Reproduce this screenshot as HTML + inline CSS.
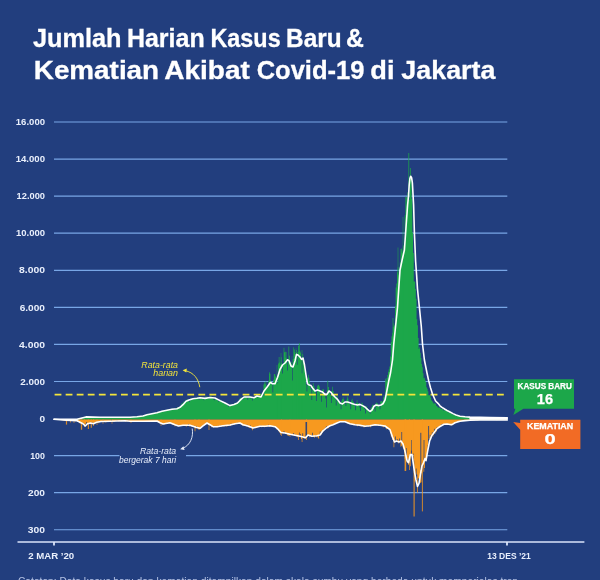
<!DOCTYPE html>
<html lang="id">
<head>
<meta charset="utf-8">
<title>Jumlah Harian Kasus Baru &amp; Kematian Akibat Covid-19 di Jakarta</title>
<style>
html,body{margin:0;padding:0;background:#223e7e;}
body{width:600px;height:580px;overflow:hidden;position:relative;font-family:"Liberation Sans",sans-serif;}
svg{position:absolute;left:0;top:0;display:block;}
text{font-family:"Liberation Sans",sans-serif;}
.t{font-weight:700;fill:#fff;stroke:#fff;stroke-width:0.3px;}
.yl{font-weight:700;fill:#e9effc;font-size:9.8px;}
.xl{font-weight:700;fill:#e9effc;font-size:9.8px;}
.an{font-style:italic;font-size:8.2px;}
.bx{font-weight:700;fill:#fff;stroke:#fff;stroke-width:0.25px;}
</style>
</head>
<body>
<svg width="600" height="580" viewBox="0 0 600 580">
<rect width="600" height="580" fill="#223e7e"/>
<text class="t" y="47.2" font-size="25.7"><tspan x="32.98" textLength="88.62" lengthAdjust="spacingAndGlyphs">Jumlah</tspan> <tspan x="126.92" textLength="77.73" lengthAdjust="spacingAndGlyphs">Harian</tspan> <tspan x="210.47" textLength="70.18" lengthAdjust="spacingAndGlyphs">Kasus</tspan> <tspan x="286.11" textLength="55.49" lengthAdjust="spacingAndGlyphs">Baru</tspan> <tspan x="345.90" textLength="17.88" lengthAdjust="spacingAndGlyphs">&amp;</tspan></text>
<text class="t" y="79.1" font-size="25.4"><tspan x="33.78" textLength="125.36" lengthAdjust="spacingAndGlyphs">Kematian</tspan> <tspan x="164.18" textLength="85.66" lengthAdjust="spacingAndGlyphs">Akibat</tspan> <tspan x="256.65" textLength="107.83" lengthAdjust="spacingAndGlyphs">Covid-19</tspan> <tspan x="370.37" textLength="24.19" lengthAdjust="spacingAndGlyphs">di</tspan> <tspan x="401.36" textLength="94.09" lengthAdjust="spacingAndGlyphs">Jakarta</tspan></text>
<g stroke="#78a6e6" stroke-width="1.2" fill="none">
<line x1="54" y1="122.00" x2="507.3" y2="122.00"/>
<line x1="54" y1="159.07" x2="507.3" y2="159.07"/>
<line x1="54" y1="196.14" x2="507.3" y2="196.14"/>
<line x1="54" y1="233.21" x2="507.3" y2="233.21"/>
<line x1="54" y1="270.28" x2="507.3" y2="270.28"/>
<line x1="54" y1="307.35" x2="507.3" y2="307.35"/>
<line x1="54" y1="344.42" x2="507.3" y2="344.42"/>
<line x1="54" y1="381.49" x2="507.3" y2="381.49"/>
<line x1="54" y1="455.63" x2="507.3" y2="455.63"/>
<line x1="54" y1="492.70" x2="507.3" y2="492.70"/>
<line x1="54" y1="529.77" x2="507.3" y2="529.77"/>
</g>
<text class="yl" x="15.80" y="125.20" textLength="29.20" lengthAdjust="spacingAndGlyphs">16.000</text>
<text class="yl" x="15.70" y="162.27" textLength="29.30" lengthAdjust="spacingAndGlyphs">14.000</text>
<text class="yl" x="16.60" y="199.34" textLength="28.40" lengthAdjust="spacingAndGlyphs">12.000</text>
<text class="yl" x="16.00" y="236.41" textLength="29.00" lengthAdjust="spacingAndGlyphs">10.000</text>
<text class="yl" x="19.00" y="273.48" textLength="26.00" lengthAdjust="spacingAndGlyphs">8.000</text>
<text class="yl" x="19.70" y="310.55" textLength="25.30" lengthAdjust="spacingAndGlyphs">6.000</text>
<text class="yl" x="19.00" y="347.62" textLength="26.00" lengthAdjust="spacingAndGlyphs">4.000</text>
<text class="yl" x="20.20" y="384.69" textLength="24.80" lengthAdjust="spacingAndGlyphs">2.000</text>
<text class="yl" x="39.40" y="421.76" textLength="5.60" lengthAdjust="spacingAndGlyphs">0</text>
<text class="yl" x="30.20" y="458.83" textLength="14.80" lengthAdjust="spacingAndGlyphs">100</text>
<text class="yl" x="28.00" y="495.90" textLength="17.00" lengthAdjust="spacingAndGlyphs">200</text>
<text class="yl" x="27.80" y="532.97" textLength="17.20" lengthAdjust="spacingAndGlyphs">300</text>
<path d="M54.00,419.4 L54.00,419.30 L54.70,419.30 L54.70,419.29 L55.39,419.29 L55.39,419.30 L56.09,419.30 L56.09,419.30 L56.78,419.30 L56.78,419.31 L57.48,419.31 L57.48,419.31 L58.18,419.31 L58.18,419.30 L58.87,419.30 L58.87,419.30 L59.57,419.30 L59.57,419.29 L60.26,419.29 L60.26,419.30 L60.96,419.30 L60.96,419.30 L61.65,419.30 L61.65,419.30 L62.35,419.30 L62.35,419.31 L63.05,419.31 L63.05,419.30 L63.74,419.30 L63.74,419.29 L64.44,419.29 L64.44,419.29 L65.13,419.29 L65.13,419.31 L65.83,419.31 L65.83,419.31 L66.53,419.31 L66.53,419.31 L67.22,419.31 L67.22,419.31 L67.92,419.31 L67.92,419.30 L68.61,419.30 L68.61,419.30 L69.31,419.30 L69.31,419.29 L70.00,419.29 L70.00,419.30 L70.70,419.30 L70.70,419.30 L71.40,419.30 L71.40,419.30 L72.09,419.30 L72.09,419.31 L72.79,419.31 L72.79,419.29 L73.48,419.29 L73.48,419.29 L74.18,419.29 L74.18,419.29 L74.88,419.29 L74.88,419.30 L75.57,419.30 L75.57,419.30 L76.27,419.30 L76.27,419.15 L76.96,419.15 L76.96,418.98 L77.66,418.98 L77.66,418.76 L78.35,418.76 L78.35,418.55 L79.05,418.55 L79.05,418.37 L79.75,418.37 L79.75,418.24 L80.44,418.24 L80.44,418.06 L81.14,418.06 L81.14,417.78 L81.83,417.78 L81.83,417.81 L82.53,417.81 L82.53,417.49 L83.23,417.49 L83.23,417.18 L83.92,417.18 L83.92,417.15 L84.62,417.15 L84.62,416.84 L85.31,416.84 L85.31,416.76 L86.01,416.76 L86.01,417.25 L86.71,417.25 L86.71,417.12 L87.40,417.12 L87.40,417.05 L88.10,417.05 L88.10,417.04 L88.79,417.04 L88.79,416.84 L89.49,416.84 L89.49,416.99 L90.18,416.99 L90.18,417.23 L90.88,417.23 L90.88,417.04 L91.58,417.04 L91.58,417.14 L92.27,417.14 L92.27,417.07 L92.97,417.07 L92.97,416.92 L93.66,416.92 L93.66,417.00 L94.36,417.00 L94.36,417.11 L95.06,417.11 L95.06,417.34 L95.75,417.34 L95.75,417.20 L96.45,417.20 L96.45,417.41 L97.14,417.41 L97.14,417.36 L97.84,417.36 L97.84,417.36 L98.53,417.36 L98.53,417.29 L99.23,417.29 L99.23,417.30 L99.93,417.30 L99.93,417.16 L100.62,417.16 L100.62,417.56 L101.32,417.56 L101.32,417.55 L102.01,417.55 L102.01,417.31 L102.71,417.31 L102.71,417.07 L103.41,417.07 L103.41,417.11 L104.10,417.11 L104.10,417.42 L104.80,417.42 L104.80,417.54 L105.49,417.54 L105.49,417.28 L106.19,417.28 L106.19,417.45 L106.88,417.45 L106.88,417.43 L107.58,417.43 L107.58,417.10 L108.28,417.10 L108.28,417.03 L108.97,417.03 L108.97,417.18 L109.67,417.18 L109.67,417.22 L110.36,417.22 L110.36,417.25 L111.06,417.25 L111.06,417.17 L111.76,417.17 L111.76,417.22 L112.45,417.22 L112.45,417.12 L113.15,417.12 L113.15,417.06 L113.84,417.06 L113.84,417.34 L114.54,417.34 L114.54,417.08 L115.24,417.08 L115.24,417.17 L115.93,417.17 L115.93,417.27 L116.63,417.27 L116.63,417.48 L117.32,417.48 L117.32,417.22 L118.02,417.22 L118.02,417.00 L118.71,417.00 L118.71,417.34 L119.41,417.34 L119.41,417.23 L120.11,417.23 L120.11,417.16 L120.80,417.16 L120.80,417.47 L121.50,417.47 L121.50,417.11 L122.19,417.11 L122.19,417.12 L122.89,417.12 L122.89,417.15 L123.59,417.15 L123.59,417.16 L124.28,417.16 L124.28,417.19 L124.98,417.19 L124.98,417.30 L125.67,417.30 L125.67,417.25 L126.37,417.25 L126.37,417.40 L127.06,417.40 L127.06,417.28 L127.76,417.28 L127.76,417.08 L128.46,417.08 L128.46,417.24 L129.15,417.24 L129.15,417.35 L129.85,417.35 L129.85,417.16 L130.54,417.16 L130.54,417.20 L131.24,417.20 L131.24,417.18 L131.94,417.18 L131.94,417.06 L132.63,417.06 L132.63,416.85 L133.33,416.85 L133.33,416.84 L134.02,416.84 L134.02,416.83 L134.72,416.83 L134.72,416.70 L135.41,416.70 L135.41,417.00 L136.11,417.00 L136.11,416.62 L136.81,416.62 L136.81,416.61 L137.50,416.61 L137.50,416.41 L138.20,416.41 L138.20,416.26 L138.89,416.26 L138.89,416.18 L139.59,416.18 L139.59,416.20 L140.29,416.20 L140.29,416.36 L140.98,416.36 L140.98,416.16 L141.68,416.16 L141.68,415.89 L142.37,415.89 L142.37,415.53 L143.07,415.53 L143.07,415.44 L143.76,415.44 L143.76,415.23 L144.46,415.23 L144.46,415.06 L145.16,415.06 L145.16,415.19 L145.85,415.19 L145.85,414.69 L146.55,414.69 L146.55,414.32 L147.24,414.32 L147.24,413.84 L147.94,413.84 L147.94,414.04 L148.64,414.04 L148.64,414.11 L149.33,414.11 L149.33,414.09 L150.03,414.09 L150.03,414.23 L150.72,414.23 L150.72,413.70 L151.42,413.70 L151.42,413.47 L152.12,413.47 L152.12,413.05 L152.81,413.05 L152.81,412.75 L153.51,412.75 L153.51,413.54 L154.20,413.54 L154.20,413.28 L154.90,413.28 L154.90,413.27 L155.59,413.27 L155.59,412.83 L156.29,412.83 L156.29,412.31 L156.99,412.31 L156.99,412.08 L157.68,412.08 L157.68,411.77 L158.38,411.77 L158.38,411.78 L159.07,411.78 L159.07,411.95 L159.77,411.95 L159.77,411.54 L160.47,411.54 L160.47,411.51 L161.16,411.51 L161.16,411.14 L161.86,411.14 L161.86,410.68 L162.55,410.68 L162.55,410.72 L163.25,410.72 L163.25,410.69 L163.94,410.69 L163.94,411.46 L164.64,411.46 L164.64,411.27 L165.34,411.27 L165.34,410.36 L166.03,410.36 L166.03,410.33 L166.73,410.33 L166.73,409.66 L167.42,409.66 L167.42,409.39 L168.12,409.39 L168.12,409.44 L168.82,409.44 L168.82,409.35 L169.51,409.35 L169.51,410.74 L170.21,410.74 L170.21,409.80 L170.90,409.80 L170.90,409.13 L171.60,409.13 L171.60,408.51 L172.29,408.51 L172.29,408.46 L172.99,408.46 L172.99,409.73 L173.69,409.73 L173.69,408.72 L174.38,408.72 L174.38,410.07 L175.08,410.07 L175.08,408.87 L175.77,408.87 L175.77,408.87 L176.47,408.87 L176.47,407.73 L177.17,407.73 L177.17,407.24 L177.86,407.24 L177.86,407.58 L178.56,407.58 L178.56,407.42 L179.25,407.42 L179.25,407.39 L179.95,407.39 L179.95,406.52 L180.65,406.52 L180.65,405.28 L181.34,405.28 L181.34,403.61 L182.04,403.61 L182.04,403.33 L182.73,403.33 L182.73,403.42 L183.43,403.42 L183.43,401.51 L184.12,401.51 L184.12,403.76 L184.82,403.76 L184.82,401.27 L185.52,401.27 L185.52,400.63 L186.21,400.63 L186.21,399.65 L186.91,399.65 L186.91,399.35 L187.60,399.35 L187.60,399.66 L188.30,399.66 L188.30,399.65 L189.00,399.65 L189.00,401.90 L189.69,401.90 L189.69,400.85 L190.39,400.85 L190.39,398.25 L191.08,398.25 L191.08,398.49 L191.78,398.49 L191.78,398.70 L192.47,398.70 L192.47,399.28 L193.17,399.28 L193.17,398.01 L193.87,398.01 L193.87,399.52 L194.56,399.52 L194.56,398.11 L195.26,398.11 L195.26,398.43 L195.95,398.43 L195.95,397.23 L196.65,397.23 L196.65,398.21 L197.35,398.21 L197.35,397.24 L198.04,397.24 L198.04,397.09 L198.74,397.09 L198.74,399.90 L199.43,399.90 L199.43,397.49 L200.13,397.49 L200.13,396.79 L200.82,396.79 L200.82,397.12 L201.52,397.12 L201.52,398.74 L202.22,398.74 L202.22,397.07 L202.91,397.07 L202.91,398.62 L203.61,398.62 L203.61,400.29 L204.30,400.29 L204.30,398.66 L205.00,398.66 L205.00,397.39 L205.70,397.39 L205.70,396.05 L206.39,396.05 L206.39,397.92 L207.09,397.92 L207.09,396.79 L207.78,396.79 L207.78,396.95 L208.48,396.95 L208.48,398.15 L209.18,398.15 L209.18,398.33 L209.87,398.33 L209.87,397.59 L210.57,397.59 L210.57,395.99 L211.26,395.99 L211.26,397.04 L211.96,397.04 L211.96,397.49 L212.65,397.49 L212.65,397.24 L213.35,397.24 L213.35,399.68 L214.05,399.68 L214.05,400.30 L214.74,400.30 L214.74,398.31 L215.44,398.31 L215.44,399.08 L216.13,399.08 L216.13,398.19 L216.83,398.19 L216.83,399.23 L217.53,399.23 L217.53,400.60 L218.22,400.60 L218.22,401.75 L218.92,401.75 L218.92,400.82 L219.61,400.82 L219.61,400.58 L220.31,400.58 L220.31,399.81 L221.00,399.81 L221.00,401.23 L221.70,401.23 L221.70,401.31 L222.40,401.31 L222.40,401.84 L223.09,401.84 L223.09,403.13 L223.79,403.13 L223.79,403.89 L224.48,403.89 L224.48,402.63 L225.18,402.63 L225.18,403.92 L225.88,403.92 L225.88,404.19 L226.57,404.19 L226.57,405.22 L227.27,405.22 L227.27,404.59 L227.96,404.59 L227.96,406.78 L228.66,406.78 L228.66,406.02 L229.35,406.02 L229.35,405.13 L230.05,405.13 L230.05,404.51 L230.75,404.51 L230.75,404.79 L231.44,404.79 L231.44,404.48 L232.14,404.48 L232.14,403.93 L232.83,403.93 L232.83,405.39 L233.53,405.39 L233.53,404.26 L234.23,404.26 L234.23,402.93 L234.92,402.93 L234.92,402.82 L235.62,402.82 L235.62,403.34 L236.31,403.34 L236.31,402.91 L237.01,402.91 L237.01,401.77 L237.71,401.77 L237.71,403.59 L238.40,403.59 L238.40,401.58 L239.10,401.58 L239.10,398.92 L239.79,398.92 L239.79,397.84 L240.49,397.84 L240.49,398.11 L241.18,398.11 L241.18,397.41 L241.88,397.41 L241.88,397.77 L242.58,397.77 L242.58,399.46 L243.27,399.46 L243.27,398.72 L243.97,398.72 L243.97,396.89 L244.66,396.89 L244.66,395.30 L245.36,395.30 L245.36,396.71 L246.06,396.71 L246.06,397.34 L246.75,397.34 L246.75,397.79 L247.45,397.79 L247.45,399.64 L248.14,399.64 L248.14,397.75 L248.84,397.75 L248.84,397.29 L249.53,397.29 L249.53,395.86 L250.23,395.86 L250.23,398.20 L250.93,398.20 L250.93,396.95 L251.62,396.95 L251.62,398.24 L252.32,398.24 L252.32,400.52 L253.01,400.52 L253.01,397.72 L253.71,397.72 L253.71,396.78 L254.41,396.78 L254.41,397.16 L255.10,397.16 L255.10,396.23 L255.80,396.23 L255.80,395.55 L256.49,395.55 L256.49,396.81 L257.19,396.81 L257.19,397.50 L257.88,397.50 L257.88,396.73 L258.58,396.73 L258.58,395.74 L259.28,395.74 L259.28,395.61 L259.97,395.61 L259.97,394.75 L260.67,394.75 L260.67,394.19 L261.36,394.19 L261.36,393.54 L262.06,393.54 L262.06,395.84 L262.76,395.84 L262.76,395.29 L263.45,395.29 L263.45,384.51 L264.15,384.51 L264.15,382.25 L264.84,382.25 L264.84,384.23 L265.54,384.23 L265.54,381.60 L266.24,381.60 L266.24,388.63 L266.93,388.63 L266.93,385.63 L267.63,385.63 L267.63,387.19 L268.32,387.19 L268.32,380.82 L269.02,380.82 L269.02,372.36 L269.71,372.36 L269.71,373.74 L270.41,373.74 L270.41,380.53 L271.11,380.53 L271.11,382.00 L271.80,382.00 L271.80,383.21 L272.50,383.21 L272.50,392.49 L273.19,392.49 L273.19,379.63 L273.89,379.63 L273.89,373.93 L274.59,373.93 L274.59,374.15 L275.28,374.15 L275.28,376.57 L275.98,376.57 L275.98,377.51 L276.67,377.51 L276.67,379.33 L277.37,379.33 L277.37,383.55 L278.06,383.55 L278.06,363.39 L278.76,363.39 L278.76,356.91 L279.46,356.91 L279.46,362.47 L280.15,362.47 L280.15,364.76 L280.85,364.76 L280.85,357.28 L281.54,357.28 L281.54,363.21 L282.24,363.21 L282.24,373.42 L282.94,373.42 L282.94,364.11 L283.63,364.11 L283.63,347.73 L284.33,347.73 L284.33,352.15 L285.02,352.15 L285.02,351.66 L285.72,351.66 L285.72,357.87 L286.41,357.87 L286.41,361.88 L287.11,361.88 L287.11,370.57 L287.81,370.57 L287.81,359.69 L288.50,359.69 L288.50,346.42 L289.20,346.42 L289.20,355.69 L289.89,355.69 L289.89,363.73 L290.59,363.73 L290.59,361.90 L291.29,361.90 L291.29,363.64 L291.98,363.64 L291.98,380.43 L292.68,380.43 L292.68,359.12 L293.37,359.12 L293.37,347.18 L294.07,347.18 L294.07,349.58 L294.76,349.58 L294.76,352.30 L295.46,352.30 L295.46,356.39 L296.16,356.39 L296.16,349.89 L296.85,349.89 L296.85,364.71 L297.55,364.71 L297.55,352.07 L298.24,352.07 L298.24,345.74 L298.94,345.74 L298.94,342.90 L299.64,342.90 L299.64,350.70 L300.33,350.70 L300.33,352.55 L301.03,352.55 L301.03,357.94 L301.72,357.94 L301.72,373.21 L302.42,373.21 L302.42,353.89 L303.12,353.89 L303.12,357.62 L303.81,357.62 L303.81,363.76 L304.51,363.76 L304.51,370.54 L305.20,370.54 L305.20,376.31 L305.90,376.31 L305.90,384.74 L306.59,384.74 L306.59,391.39 L307.29,391.39 L307.29,378.54 L307.99,378.54 L307.99,374.72 L308.68,374.72 L308.68,377.87 L309.38,377.87 L309.38,381.70 L310.07,381.70 L310.07,386.92 L310.77,386.92 L310.77,389.07 L311.47,389.07 L311.47,400.07 L312.16,400.07 L312.16,386.18 L312.86,386.18 L312.86,382.93 L313.55,382.93 L313.55,385.75 L314.25,385.75 L314.25,388.09 L314.94,388.09 L314.94,390.21 L315.64,390.21 L315.64,393.13 L316.34,393.13 L316.34,400.91 L317.03,400.91 L317.03,386.23 L317.73,386.23 L317.73,384.75 L318.42,384.75 L318.42,385.06 L319.12,385.06 L319.12,386.58 L319.82,386.58 L319.82,390.74 L320.51,390.74 L320.51,394.82 L321.21,394.82 L321.21,401.71 L321.90,401.71 L321.90,390.27 L322.60,390.27 L322.60,389.07 L323.29,389.07 L323.29,389.40 L323.99,389.40 L323.99,393.30 L324.69,393.30 L324.69,393.29 L325.38,393.29 L325.38,398.53 L326.08,398.53 L326.08,407.51 L326.77,407.51 L326.77,390.13 L327.47,390.13 L327.47,380.78 L328.17,380.78 L328.17,386.93 L328.86,386.93 L328.86,391.29 L329.56,391.29 L329.56,393.48 L330.25,393.48 L330.25,394.95 L330.95,394.95 L330.95,402.97 L331.65,402.97 L331.65,390.98 L332.34,390.98 L332.34,386.87 L333.04,386.87 L333.04,391.24 L333.73,391.24 L333.73,394.87 L334.43,394.87 L334.43,396.97 L335.12,396.97 L335.12,398.43 L335.82,398.43 L335.82,405.62 L336.52,405.62 L336.52,395.81 L337.21,395.81 L337.21,396.95 L337.91,396.95 L337.91,398.94 L338.60,398.94 L338.60,400.56 L339.30,400.56 L339.30,403.55 L340.00,403.55 L340.00,404.11 L340.69,404.11 L340.69,409.18 L341.39,409.18 L341.39,400.62 L342.08,400.62 L342.08,398.94 L342.78,398.94 L342.78,397.14 L343.47,397.14 L343.47,399.13 L344.17,399.13 L344.17,402.22 L344.87,402.22 L344.87,403.65 L345.56,403.65 L345.56,405.90 L346.26,405.90 L346.26,399.78 L346.95,399.78 L346.95,396.54 L347.65,396.54 L347.65,398.40 L348.35,398.40 L348.35,400.98 L349.04,400.98 L349.04,404.06 L349.74,404.06 L349.74,404.62 L350.43,404.62 L350.43,409.18 L351.13,409.18 L351.13,400.33 L351.82,400.33 L351.82,398.86 L352.52,398.86 L352.52,401.33 L353.22,401.33 L353.22,402.00 L353.91,402.00 L353.91,403.98 L354.61,403.98 L354.61,405.92 L355.30,405.92 L355.30,410.30 L356.00,410.30 L356.00,403.01 L356.70,403.01 L356.70,400.20 L357.39,400.20 L357.39,402.99 L358.09,402.99 L358.09,403.61 L358.78,403.61 L358.78,404.46 L359.48,404.46 L359.48,407.54 L360.18,407.54 L360.18,410.93 L360.87,410.93 L360.87,405.05 L361.57,405.05 L361.57,402.59 L362.26,402.59 L362.26,403.40 L362.96,403.40 L362.96,404.90 L363.65,404.90 L363.65,407.04 L364.35,407.04 L364.35,409.01 L365.05,409.01 L365.05,413.48 L365.74,413.48 L365.74,406.31 L366.44,406.31 L366.44,406.61 L367.13,406.61 L367.13,407.97 L367.83,407.97 L367.83,410.40 L368.53,410.40 L368.53,411.48 L369.22,411.48 L369.22,412.81 L369.92,412.81 L369.92,413.50 L370.61,413.50 L370.61,408.10 L371.31,408.10 L371.31,407.00 L372.00,407.00 L372.00,405.35 L372.70,405.35 L372.70,404.40 L373.40,404.40 L373.40,407.22 L374.09,407.22 L374.09,408.29 L374.79,408.29 L374.79,411.41 L375.48,411.41 L375.48,403.57 L376.18,403.57 L376.18,402.55 L376.88,402.55 L376.88,402.91 L377.57,402.91 L377.57,404.00 L378.27,404.00 L378.27,404.88 L378.96,404.88 L378.96,406.03 L379.66,406.03 L379.66,409.17 L380.35,409.17 L380.35,401.30 L381.05,401.30 L381.05,401.05 L381.75,401.05 L381.75,401.20 L382.44,401.20 L382.44,401.64 L383.14,401.64 L383.14,397.27 L383.83,397.27 L383.83,395.12 L384.53,395.12 L384.53,400.33 L385.23,400.33 L385.23,378.87 L385.92,378.87 L385.92,380.72 L386.62,380.72 L386.62,377.96 L387.31,377.96 L387.31,375.00 L388.01,375.00 L388.01,371.66 L388.71,371.66 L388.71,369.32 L389.40,369.32 L389.40,366.38 L390.10,366.38 L390.10,356.56 L390.79,356.56 L390.79,342.03 L391.49,342.03 L391.49,336.30 L392.18,336.30 L392.18,332.65 L392.88,332.65 L392.88,326.99 L393.58,326.99 L393.58,323.32 L394.27,323.32 L394.27,325.52 L394.97,325.52 L394.97,306.52 L395.66,306.52 L395.66,287.45 L396.36,287.45 L396.36,283.40 L397.06,283.40 L397.06,272.37 L397.75,272.37 L397.75,267.19 L398.45,267.19 L398.45,274.81 L399.14,274.81 L399.14,272.92 L399.84,272.92 L399.84,262.53 L400.53,262.53 L400.53,248.91 L401.23,248.91 L401.23,248.45 L401.93,248.45 L401.93,252.43 L402.62,252.43 L402.62,250.52 L403.32,250.52 L403.32,245.52 L404.01,245.52 L404.01,241.59 L404.71,241.59 L404.71,215.24 L405.41,215.24 L405.41,196.66 L406.10,196.66 L406.10,197.10 L406.80,197.10 L406.80,205.50 L407.49,205.50 L407.49,192.35 L408.19,192.35 L408.19,194.89 L408.88,194.89 L408.88,199.89 L409.58,199.89 L409.58,177.19 L410.28,177.19 L410.28,168.06 L410.97,168.06 L410.97,176.16 L411.67,176.16 L411.67,199.00 L412.36,199.00 L412.36,232.73 L413.06,232.73 L413.06,252.98 L413.76,252.98 L413.76,281.59 L414.45,281.59 L414.45,281.53 L415.15,281.53 L415.15,288.98 L415.84,288.98 L415.84,298.77 L416.54,298.77 L416.54,319.23 L417.24,319.23 L417.24,325.22 L417.93,325.22 L417.93,338.01 L418.63,338.01 L418.63,348.96 L419.32,348.96 L419.32,347.27 L420.02,347.27 L420.02,352.79 L420.71,352.79 L420.71,358.08 L421.41,358.08 L421.41,363.95 L422.11,363.95 L422.11,367.30 L422.80,367.30 L422.80,373.17 L423.50,373.17 L423.50,378.25 L424.19,378.25 L424.19,377.78 L424.89,377.78 L424.89,380.25 L425.59,380.25 L425.59,382.06 L426.28,382.06 L426.28,387.26 L426.98,387.26 L426.98,388.87 L427.67,388.87 L427.67,391.16 L428.37,391.16 L428.37,395.36 L429.06,395.36 L429.06,395.15 L429.76,395.15 L429.76,395.07 L430.46,395.07 L430.46,397.66 L431.15,397.66 L431.15,400.19 L431.85,400.19 L431.85,401.09 L432.54,401.09 L432.54,402.35 L433.24,402.35 L433.24,403.46 L433.94,403.46 L433.94,403.44 L434.63,403.44 L434.63,402.72 L435.33,402.72 L435.33,403.98 L436.02,403.98 L436.02,405.67 L436.72,405.67 L436.72,406.10 L437.41,406.10 L437.41,407.25 L438.11,407.25 L438.11,407.60 L438.81,407.60 L438.81,407.67 L439.50,407.67 L439.50,407.13 L440.20,407.13 L440.20,408.16 L440.89,408.16 L440.89,408.96 L441.59,408.96 L441.59,408.57 L442.29,408.57 L442.29,409.03 L442.98,409.03 L442.98,410.62 L443.68,410.62 L443.68,410.30 L444.37,410.30 L444.37,409.50 L445.07,409.50 L445.07,410.39 L445.76,410.39 L445.76,410.79 L446.46,410.79 L446.46,410.58 L447.16,410.58 L447.16,411.35 L447.85,411.35 L447.85,412.73 L448.55,412.73 L448.55,411.22 L449.24,411.22 L449.24,412.00 L449.94,412.00 L449.94,412.22 L450.64,412.22 L450.64,413.26 L451.33,413.26 L451.33,413.44 L452.03,413.44 L452.03,414.49 L452.72,414.49 L452.72,414.16 L453.42,414.16 L453.42,414.08 L454.12,414.08 L454.12,414.80 L454.81,414.80 L454.81,415.24 L455.51,415.24 L455.51,415.59 L456.20,415.59 L456.20,415.23 L456.90,415.23 L456.90,415.91 L457.59,415.91 L457.59,416.25 L458.29,416.25 L458.29,416.14 L458.99,416.14 L458.99,416.10 L459.68,416.10 L459.68,416.40 L460.38,416.40 L460.38,416.40 L461.07,416.40 L461.07,416.70 L461.77,416.70 L461.77,416.70 L462.47,416.70 L462.47,416.89 L463.16,416.89 L463.16,416.68 L463.86,416.68 L463.86,416.71 L464.55,416.71 L464.55,416.89 L465.25,416.89 L465.25,416.88 L465.94,416.88 L465.94,417.00 L466.64,417.00 L466.64,416.89 L467.34,416.89 L467.34,417.17 L468.03,417.17 L468.03,417.08 L468.73,417.08 L468.73,417.04 L469.42,417.04 L469.42,417.13 L470.12,417.13 L470.12,417.25 L470.82,417.25 L470.82,417.20 L471.51,417.20 L471.51,417.24 L472.21,417.24 L472.21,417.37 L472.90,417.37 L472.90,417.17 L473.60,417.17 L473.60,416.92 L474.29,416.92 L474.29,417.28 L474.99,417.28 L474.99,417.29 L475.69,417.29 L475.69,417.02 L476.38,417.02 L476.38,417.61 L477.08,417.61 L477.08,417.61 L477.77,417.61 L477.77,417.36 L478.47,417.36 L478.47,417.28 L479.17,417.28 L479.17,417.31 L479.86,417.31 L479.86,417.45 L480.56,417.45 L480.56,417.40 L481.25,417.40 L481.25,417.52 L481.95,417.52 L481.95,417.58 L482.65,417.58 L482.65,417.66 L483.34,417.66 L483.34,417.48 L484.04,417.48 L484.04,417.45 L484.73,417.45 L484.73,417.62 L485.43,417.62 L485.43,417.63 L486.12,417.63 L486.12,417.57 L486.82,417.57 L486.82,417.81 L487.52,417.81 L487.52,417.52 L488.21,417.52 L488.21,417.43 L488.91,417.43 L488.91,417.52 L489.60,417.52 L489.60,417.56 L490.30,417.56 L490.30,417.62 L491.00,417.62 L491.00,417.81 L491.69,417.81 L491.69,417.80 L492.39,417.80 L492.39,417.58 L493.08,417.58 L493.08,417.58 L493.78,417.58 L493.78,417.59 L494.47,417.59 L494.47,417.57 L495.17,417.57 L495.17,417.72 L495.87,417.72 L495.87,417.66 L496.56,417.66 L496.56,417.66 L497.26,417.66 L497.26,417.70 L497.95,417.70 L497.95,417.55 L498.65,417.55 L498.65,417.62 L499.35,417.62 L499.35,417.53 L500.04,417.53 L500.04,417.64 L500.74,417.64 L500.74,417.66 L501.43,417.66 L501.43,417.91 L502.13,417.91 L502.13,417.68 L502.82,417.68 L502.82,417.60 L503.52,417.60 L503.52,417.79 L504.22,417.79 L504.22,417.57 L504.91,417.57 L504.91,417.62 L505.61,417.62 L505.61,417.91 L506.30,417.91 L506.30,417.81 L507.00,417.81 L507.00,419.4 Z" fill="#1ca74a"/>
<line x1="408.75" y1="419.4" x2="408.75" y2="153" stroke="#1ca74a" stroke-width="1.0" opacity="0.75"/>
<line x1="398" y1="419.4" x2="398" y2="247.5" stroke="#1ca74a" stroke-width="0.9" opacity="0.6"/>
<line x1="403" y1="419.4" x2="403" y2="217" stroke="#1ca74a" stroke-width="0.9" opacity="0.6"/>
<line x1="393" y1="419.4" x2="393" y2="318" stroke="#1ca74a" stroke-width="1.0" opacity="0.7"/>
<line x1="298.75" y1="419.4" x2="298.75" y2="345.6" stroke="#1ca74a" stroke-width="0.9" opacity="0.55"/>
<line x1="302" y1="419.4" x2="302" y2="350" stroke="#1ca74a" stroke-width="0.9" opacity="0.55"/>
<line x1="281" y1="419.4" x2="281" y2="353" stroke="#1ca74a" stroke-width="0.9" opacity="0.5"/>
<line x1="286.5" y1="419.4" x2="286.5" y2="352" stroke="#1ca74a" stroke-width="0.9" opacity="0.5"/>
<line x1="277" y1="419.4" x2="277" y2="365" stroke="#1ca74a" stroke-width="0.9" opacity="0.5"/>
<line x1="292" y1="419.4" x2="292" y2="356" stroke="#1ca74a" stroke-width="0.8" opacity="0.4"/>
<line x1="296" y1="419.4" x2="296" y2="348" stroke="#1ca74a" stroke-width="0.8" opacity="0.4"/>
<path d="M54.00,419.4 L54.00,419.42 L54.70,419.42 L54.70,419.44 L55.39,419.44 L55.39,419.51 L56.09,419.51 L56.09,419.50 L56.78,419.50 L56.78,419.61 L57.48,419.61 L57.48,419.77 L58.18,419.77 L58.18,419.69 L58.87,419.69 L58.87,419.70 L59.57,419.70 L59.57,419.71 L60.26,419.71 L60.26,419.77 L60.96,419.77 L60.96,420.02 L61.65,420.02 L61.65,420.29 L62.35,420.29 L62.35,420.16 L63.05,420.16 L63.05,420.20 L63.74,420.20 L63.74,420.64 L64.44,420.64 L64.44,420.17 L65.13,420.17 L65.13,420.18 L65.83,420.18 L65.83,420.48 L66.53,420.48 L66.53,420.52 L67.22,420.52 L67.22,420.18 L67.92,420.18 L67.92,420.16 L68.61,420.16 L68.61,420.55 L69.31,420.55 L69.31,420.57 L70.00,420.57 L70.00,420.19 L70.70,420.19 L70.70,420.51 L71.40,420.51 L71.40,420.44 L72.09,420.44 L72.09,420.75 L72.79,420.75 L72.79,420.62 L73.48,420.62 L73.48,420.66 L74.18,420.66 L74.18,420.60 L74.88,420.60 L74.88,421.07 L75.57,421.07 L75.57,421.21 L76.27,421.21 L76.27,420.77 L76.96,420.77 L76.96,421.63 L77.66,421.63 L77.66,421.23 L78.35,421.23 L78.35,422.02 L79.05,422.02 L79.05,422.85 L79.75,422.85 L79.75,423.86 L80.44,423.86 L80.44,422.73 L81.14,422.73 L81.14,423.34 L81.83,423.34 L81.83,423.97 L82.53,423.97 L82.53,422.64 L83.23,422.64 L83.23,425.11 L83.92,425.11 L83.92,424.80 L84.62,424.80 L84.62,426.43 L85.31,426.43 L85.31,423.64 L86.01,423.64 L86.01,422.12 L86.71,422.12 L86.71,423.88 L87.40,423.88 L87.40,423.92 L88.10,423.92 L88.10,422.96 L88.79,422.96 L88.79,424.11 L89.49,424.11 L89.49,422.89 L90.18,422.89 L90.18,422.72 L90.88,422.72 L90.88,423.90 L91.58,423.90 L91.58,422.08 L92.27,422.08 L92.27,423.11 L92.97,423.11 L92.97,423.65 L93.66,423.65 L93.66,424.08 L94.36,424.08 L94.36,422.82 L95.06,422.82 L95.06,422.82 L95.75,422.82 L95.75,421.86 L96.45,421.86 L96.45,422.38 L97.14,422.38 L97.14,423.09 L97.84,423.09 L97.84,421.54 L98.53,421.54 L98.53,423.16 L99.23,423.16 L99.23,421.36 L99.93,421.36 L99.93,421.59 L100.62,421.59 L100.62,421.63 L101.32,421.63 L101.32,422.03 L102.01,422.03 L102.01,420.89 L102.71,420.89 L102.71,420.46 L103.41,420.46 L103.41,421.74 L104.10,421.74 L104.10,421.80 L104.80,421.80 L104.80,421.69 L105.49,421.69 L105.49,422.59 L106.19,422.59 L106.19,421.45 L106.88,421.45 L106.88,421.44 L107.58,421.44 L107.58,421.72 L108.28,421.72 L108.28,421.44 L108.97,421.44 L108.97,421.98 L109.67,421.98 L109.67,420.71 L110.36,420.71 L110.36,421.05 L111.06,421.05 L111.06,419.75 L111.76,419.75 L111.76,421.51 L112.45,421.51 L112.45,421.00 L113.15,421.00 L113.15,421.50 L113.84,421.50 L113.84,421.96 L114.54,421.96 L114.54,421.08 L115.24,421.08 L115.24,420.96 L115.93,420.96 L115.93,420.85 L116.63,420.85 L116.63,420.70 L117.32,420.70 L117.32,420.76 L118.02,420.76 L118.02,421.21 L118.71,421.21 L118.71,420.97 L119.41,420.97 L119.41,420.96 L120.11,420.96 L120.11,420.85 L120.80,420.85 L120.80,421.21 L121.50,421.21 L121.50,421.04 L122.19,421.04 L122.19,420.80 L122.89,420.80 L122.89,421.05 L123.59,421.05 L123.59,420.76 L124.28,420.76 L124.28,420.44 L124.98,420.44 L124.98,421.40 L125.67,421.40 L125.67,421.14 L126.37,421.14 L126.37,420.68 L127.06,420.68 L127.06,421.57 L127.76,421.57 L127.76,421.36 L128.46,421.36 L128.46,420.60 L129.15,420.60 L129.15,422.09 L129.85,422.09 L129.85,421.42 L130.54,421.42 L130.54,421.53 L131.24,421.53 L131.24,421.39 L131.94,421.39 L131.94,421.33 L132.63,421.33 L132.63,421.06 L133.33,421.06 L133.33,421.54 L134.02,421.54 L134.02,421.36 L134.72,421.36 L134.72,421.30 L135.41,421.30 L135.41,421.42 L136.11,421.42 L136.11,421.37 L136.81,421.37 L136.81,421.49 L137.50,421.49 L137.50,421.29 L138.20,421.29 L138.20,421.35 L138.89,421.35 L138.89,420.95 L139.59,420.95 L139.59,421.28 L140.29,421.28 L140.29,421.49 L140.98,421.49 L140.98,421.61 L141.68,421.61 L141.68,421.29 L142.37,421.29 L142.37,421.33 L143.07,421.33 L143.07,421.63 L143.76,421.63 L143.76,421.26 L144.46,421.26 L144.46,421.44 L145.16,421.44 L145.16,421.60 L145.85,421.60 L145.85,421.28 L146.55,421.28 L146.55,421.48 L147.24,421.48 L147.24,421.12 L147.94,421.12 L147.94,421.26 L148.64,421.26 L148.64,421.20 L149.33,421.20 L149.33,421.22 L150.03,421.22 L150.03,421.38 L150.72,421.38 L150.72,421.58 L151.42,421.58 L151.42,421.04 L152.12,421.04 L152.12,421.04 L152.81,421.04 L152.81,421.20 L153.51,421.20 L153.51,420.93 L154.20,420.93 L154.20,421.17 L154.90,421.17 L154.90,421.17 L155.59,421.17 L155.59,421.01 L156.29,421.01 L156.29,421.28 L156.99,421.28 L156.99,421.26 L157.68,421.26 L157.68,422.19 L158.38,422.19 L158.38,421.95 L159.07,421.95 L159.07,422.58 L159.77,422.58 L159.77,422.92 L160.47,422.92 L160.47,423.27 L161.16,423.27 L161.16,424.10 L161.86,424.10 L161.86,424.09 L162.55,424.09 L162.55,423.86 L163.25,423.86 L163.25,424.15 L163.94,424.15 L163.94,424.45 L164.64,424.45 L164.64,423.65 L165.34,423.65 L165.34,423.66 L166.03,423.66 L166.03,423.86 L166.73,423.86 L166.73,423.34 L167.42,423.34 L167.42,422.65 L168.12,422.65 L168.12,423.84 L168.82,423.84 L168.82,423.58 L169.51,423.58 L169.51,422.30 L170.21,422.30 L170.21,423.26 L170.90,423.26 L170.90,423.73 L171.60,423.73 L171.60,424.27 L172.29,424.27 L172.29,424.44 L172.99,424.44 L172.99,424.29 L173.69,424.29 L173.69,424.17 L174.38,424.17 L174.38,425.04 L175.08,425.04 L175.08,425.84 L175.77,425.84 L175.77,424.87 L176.47,424.87 L176.47,425.15 L177.17,425.15 L177.17,426.03 L177.86,426.03 L177.86,424.88 L178.56,424.88 L178.56,425.87 L179.25,425.87 L179.25,425.65 L179.95,425.65 L179.95,426.09 L180.65,426.09 L180.65,425.27 L181.34,425.27 L181.34,425.06 L182.04,425.06 L182.04,425.25 L182.73,425.25 L182.73,425.45 L183.43,425.45 L183.43,425.08 L184.12,425.08 L184.12,425.48 L184.82,425.48 L184.82,425.92 L185.52,425.92 L185.52,426.18 L186.21,426.18 L186.21,426.48 L186.91,426.48 L186.91,425.01 L187.60,425.01 L187.60,425.23 L188.30,425.23 L188.30,424.01 L189.00,424.01 L189.00,426.60 L189.69,426.60 L189.69,425.25 L190.39,425.25 L190.39,425.91 L191.08,425.91 L191.08,426.52 L191.78,426.52 L191.78,425.49 L192.47,425.49 L192.47,426.98 L193.17,426.98 L193.17,426.87 L193.87,426.87 L193.87,425.76 L194.56,425.76 L194.56,427.59 L195.26,427.59 L195.26,428.54 L195.95,428.54 L195.95,426.25 L196.65,426.25 L196.65,428.62 L197.35,428.62 L197.35,428.30 L198.04,428.30 L198.04,428.72 L198.74,428.72 L198.74,428.88 L199.43,428.88 L199.43,429.36 L200.13,429.36 L200.13,427.46 L200.82,427.46 L200.82,427.69 L201.52,427.69 L201.52,426.17 L202.22,426.17 L202.22,426.33 L202.91,426.33 L202.91,424.90 L203.61,424.90 L203.61,424.81 L204.30,424.81 L204.30,425.20 L205.00,425.20 L205.00,424.06 L205.70,424.06 L205.70,423.30 L206.39,423.30 L206.39,422.87 L207.09,422.87 L207.09,423.38 L207.78,423.38 L207.78,424.21 L208.48,424.21 L208.48,424.99 L209.18,424.99 L209.18,425.17 L209.87,425.17 L209.87,425.73 L210.57,425.73 L210.57,425.87 L211.26,425.87 L211.26,427.29 L211.96,427.29 L211.96,426.57 L212.65,426.57 L212.65,426.52 L213.35,426.52 L213.35,427.57 L214.05,427.57 L214.05,426.97 L214.74,426.97 L214.74,426.72 L215.44,426.72 L215.44,426.50 L216.13,426.50 L216.13,426.72 L216.83,426.72 L216.83,427.25 L217.53,427.25 L217.53,426.94 L218.22,426.94 L218.22,425.74 L218.92,425.74 L218.92,426.77 L219.61,426.77 L219.61,426.49 L220.31,426.49 L220.31,425.60 L221.00,425.60 L221.00,426.66 L221.70,426.66 L221.70,425.87 L222.40,425.87 L222.40,425.74 L223.09,425.74 L223.09,426.37 L223.79,426.37 L223.79,426.61 L224.48,426.61 L224.48,425.28 L225.18,425.28 L225.18,425.89 L225.88,425.89 L225.88,425.02 L226.57,425.02 L226.57,426.82 L227.27,426.82 L227.27,425.09 L227.96,425.09 L227.96,425.98 L228.66,425.98 L228.66,424.85 L229.35,424.85 L229.35,425.53 L230.05,425.53 L230.05,426.09 L230.75,426.09 L230.75,423.40 L231.44,423.40 L231.44,424.31 L232.14,424.31 L232.14,424.58 L232.83,424.58 L232.83,424.11 L233.53,424.11 L233.53,423.67 L234.23,423.67 L234.23,424.72 L234.92,424.72 L234.92,423.74 L235.62,423.74 L235.62,422.93 L236.31,422.93 L236.31,423.84 L237.01,423.84 L237.01,422.73 L237.71,422.73 L237.71,423.74 L238.40,423.74 L238.40,422.99 L239.10,422.99 L239.10,423.19 L239.79,423.19 L239.79,424.05 L240.49,424.05 L240.49,424.00 L241.18,424.00 L241.18,423.68 L241.88,423.68 L241.88,423.88 L242.58,423.88 L242.58,425.65 L243.27,425.65 L243.27,425.62 L243.97,425.62 L243.97,424.93 L244.66,424.93 L244.66,426.12 L245.36,426.12 L245.36,426.10 L246.06,426.10 L246.06,426.41 L246.75,426.41 L246.75,424.71 L247.45,424.71 L247.45,426.22 L248.14,426.22 L248.14,427.27 L248.84,427.27 L248.84,427.38 L249.53,427.38 L249.53,427.80 L250.23,427.80 L250.23,425.53 L250.93,425.53 L250.93,427.89 L251.62,427.89 L251.62,428.48 L252.32,428.48 L252.32,430.37 L253.01,430.37 L253.01,427.21 L253.71,427.21 L253.71,427.56 L254.41,427.56 L254.41,427.68 L255.10,427.68 L255.10,428.17 L255.80,428.17 L255.80,426.95 L256.49,426.95 L256.49,427.98 L257.19,427.98 L257.19,426.38 L257.88,426.38 L257.88,426.98 L258.58,426.98 L258.58,426.25 L259.28,426.25 L259.28,426.62 L259.97,426.62 L259.97,426.03 L260.67,426.03 L260.67,425.40 L261.36,425.40 L261.36,427.26 L262.06,427.26 L262.06,426.72 L262.76,426.72 L262.76,426.12 L263.45,426.12 L263.45,426.65 L264.15,426.65 L264.15,427.18 L264.84,427.18 L264.84,425.76 L265.54,425.76 L265.54,426.28 L266.24,426.28 L266.24,426.64 L266.93,426.64 L266.93,426.56 L267.63,426.56 L267.63,425.92 L268.32,425.92 L268.32,424.70 L269.02,424.70 L269.02,426.79 L269.71,426.79 L269.71,426.33 L270.41,426.33 L270.41,426.25 L271.11,426.25 L271.11,426.18 L271.80,426.18 L271.80,426.68 L272.50,426.68 L272.50,426.33 L273.19,426.33 L273.19,426.03 L273.89,426.03 L273.89,426.35 L274.59,426.35 L274.59,426.91 L275.28,426.91 L275.28,427.46 L275.98,427.46 L275.98,427.54 L276.67,427.54 L276.67,429.77 L277.37,429.77 L277.37,428.52 L278.06,428.52 L278.06,431.36 L278.76,431.36 L278.76,430.24 L279.46,430.24 L279.46,432.66 L280.15,432.66 L280.15,434.71 L280.85,434.71 L280.85,433.26 L281.54,433.26 L281.54,432.11 L282.24,432.11 L282.24,433.24 L282.94,433.24 L282.94,433.46 L283.63,433.46 L283.63,431.00 L284.33,431.00 L284.33,432.65 L285.02,432.65 L285.02,433.87 L285.72,433.87 L285.72,433.16 L286.41,433.16 L286.41,434.10 L287.11,434.10 L287.11,435.22 L287.81,435.22 L287.81,435.45 L288.50,435.45 L288.50,435.84 L289.20,435.84 L289.20,435.55 L289.89,435.55 L289.89,434.40 L290.59,434.40 L290.59,434.96 L291.29,434.96 L291.29,434.74 L291.98,434.74 L291.98,434.82 L292.68,434.82 L292.68,435.19 L293.37,435.19 L293.37,432.91 L294.07,432.91 L294.07,435.25 L294.76,435.25 L294.76,435.89 L295.46,435.89 L295.46,434.49 L296.16,434.49 L296.16,436.17 L296.85,436.17 L296.85,437.20 L297.55,437.20 L297.55,436.22 L298.24,436.22 L298.24,440.12 L298.94,440.12 L298.94,432.38 L299.64,432.38 L299.64,436.60 L300.33,436.60 L300.33,433.98 L301.03,433.98 L301.03,438.98 L301.72,438.98 L301.72,442.10 L302.42,442.10 L302.42,433.22 L303.12,433.22 L303.12,438.11 L303.81,438.11 L303.81,439.05 L304.51,439.05 L304.51,437.78 L305.20,437.78 L305.20,438.58 L305.90,438.58 L305.90,433.01 L306.59,433.01 L306.59,437.37 L307.29,437.37 L307.29,436.12 L307.99,436.12 L307.99,435.79 L308.68,435.79 L308.68,435.03 L309.38,435.03 L309.38,437.23 L310.07,437.23 L310.07,435.60 L310.77,435.60 L310.77,436.99 L311.47,436.99 L311.47,435.81 L312.16,435.81 L312.16,432.86 L312.86,432.86 L312.86,436.50 L313.55,436.50 L313.55,436.83 L314.25,436.83 L314.25,437.69 L314.94,437.69 L314.94,434.94 L315.64,434.94 L315.64,436.27 L316.34,436.27 L316.34,437.22 L317.03,437.22 L317.03,436.26 L317.73,436.26 L317.73,437.81 L318.42,437.81 L318.42,438.78 L319.12,438.78 L319.12,433.96 L319.82,433.96 L319.82,431.58 L320.51,431.58 L320.51,434.52 L321.21,434.52 L321.21,434.28 L321.90,434.28 L321.90,432.43 L322.60,432.43 L322.60,431.57 L323.29,431.57 L323.29,429.44 L323.99,429.44 L323.99,428.80 L324.69,428.80 L324.69,429.72 L325.38,429.72 L325.38,427.52 L326.08,427.52 L326.08,426.26 L326.77,426.26 L326.77,426.55 L327.47,426.55 L327.47,428.73 L328.17,428.73 L328.17,427.84 L328.86,427.84 L328.86,425.66 L329.56,425.66 L329.56,425.35 L330.25,425.35 L330.25,425.68 L330.95,425.68 L330.95,424.85 L331.65,424.85 L331.65,425.73 L332.34,425.73 L332.34,424.69 L333.04,424.69 L333.04,423.90 L333.73,423.90 L333.73,424.72 L334.43,424.72 L334.43,423.57 L335.12,423.57 L335.12,423.60 L335.82,423.60 L335.82,423.20 L336.52,423.20 L336.52,422.79 L337.21,422.79 L337.21,422.69 L337.91,422.69 L337.91,422.09 L338.60,422.09 L338.60,421.51 L339.30,421.51 L339.30,421.26 L340.00,421.26 L340.00,421.48 L340.69,421.48 L340.69,421.59 L341.39,421.59 L341.39,421.76 L342.08,421.76 L342.08,421.78 L342.78,421.78 L342.78,421.90 L343.47,421.90 L343.47,421.80 L344.17,421.80 L344.17,421.63 L344.87,421.63 L344.87,421.92 L345.56,421.92 L345.56,421.78 L346.26,421.78 L346.26,422.62 L346.95,422.62 L346.95,423.13 L347.65,423.13 L347.65,423.45 L348.35,423.45 L348.35,423.49 L349.04,423.49 L349.04,423.75 L349.74,423.75 L349.74,424.39 L350.43,424.39 L350.43,424.12 L351.13,424.12 L351.13,424.60 L351.82,424.60 L351.82,424.68 L352.52,424.68 L352.52,424.65 L353.22,424.65 L353.22,425.36 L353.91,425.36 L353.91,424.53 L354.61,424.53 L354.61,424.74 L355.30,424.74 L355.30,424.57 L356.00,424.57 L356.00,424.66 L356.70,424.66 L356.70,426.06 L357.39,426.06 L357.39,426.27 L358.09,426.27 L358.09,425.37 L358.78,425.37 L358.78,425.78 L359.48,425.78 L359.48,426.27 L360.18,426.27 L360.18,426.20 L360.87,426.20 L360.87,426.61 L361.57,426.61 L361.57,425.19 L362.26,425.19 L362.26,425.72 L362.96,425.72 L362.96,426.58 L363.65,426.58 L363.65,427.40 L364.35,427.40 L364.35,426.55 L365.05,426.55 L365.05,425.82 L365.74,425.82 L365.74,426.09 L366.44,426.09 L366.44,425.82 L367.13,425.82 L367.13,425.62 L367.83,425.62 L367.83,427.10 L368.53,427.10 L368.53,425.64 L369.22,425.64 L369.22,425.97 L369.92,425.97 L369.92,427.14 L370.61,427.14 L370.61,426.36 L371.31,426.36 L371.31,425.68 L372.00,425.68 L372.00,424.97 L372.70,424.97 L372.70,425.39 L373.40,425.39 L373.40,425.89 L374.09,425.89 L374.09,425.19 L374.79,425.19 L374.79,425.61 L375.48,425.61 L375.48,425.06 L376.18,425.06 L376.18,425.36 L376.88,425.36 L376.88,425.04 L377.57,425.04 L377.57,425.46 L378.27,425.46 L378.27,426.04 L378.96,426.04 L378.96,424.54 L379.66,424.54 L379.66,425.44 L380.35,425.44 L380.35,425.73 L381.05,425.73 L381.05,425.35 L381.75,425.35 L381.75,425.63 L382.44,425.63 L382.44,426.43 L383.14,426.43 L383.14,427.34 L383.83,427.34 L383.83,426.58 L384.53,426.58 L384.53,426.79 L385.23,426.79 L385.23,425.93 L385.92,425.93 L385.92,429.16 L386.62,429.16 L386.62,428.22 L387.31,428.22 L387.31,428.65 L388.01,428.65 L388.01,428.15 L388.71,428.15 L388.71,429.69 L389.40,429.69 L389.40,429.82 L390.10,429.82 L390.10,433.28 L390.79,433.28 L390.79,436.25 L391.49,436.25 L391.49,437.41 L392.18,437.41 L392.18,439.91 L392.88,439.91 L392.88,438.45 L393.58,438.45 L393.58,447.19 L394.27,447.19 L394.27,440.27 L394.97,440.27 L394.97,436.38 L395.66,436.38 L395.66,441.13 L396.36,441.13 L396.36,439.64 L397.06,439.64 L397.06,439.13 L397.75,439.13 L397.75,441.44 L398.45,441.44 L398.45,443.39 L399.14,443.39 L399.14,438.47 L399.84,438.47 L399.84,441.34 L400.53,441.34 L400.53,446.85 L401.23,446.85 L401.23,445.70 L401.93,445.70 L401.93,444.02 L402.62,444.02 L402.62,447.39 L403.32,447.39 L403.32,449.07 L404.01,449.07 L404.01,452.00 L404.71,452.00 L404.71,459.10 L405.41,459.10 L405.41,458.35 L406.10,458.35 L406.10,448.08 L406.80,448.08 L406.80,462.86 L407.49,462.86 L407.49,458.58 L408.19,458.58 L408.19,464.90 L408.88,464.90 L408.88,454.88 L409.58,454.88 L409.58,456.28 L410.28,456.28 L410.28,466.25 L410.97,466.25 L410.97,450.41 L411.67,450.41 L411.67,453.90 L412.36,453.90 L412.36,456.39 L413.06,456.39 L413.06,453.59 L413.76,453.59 L413.76,460.58 L414.45,460.58 L414.45,481.45 L415.15,481.45 L415.15,476.79 L415.84,476.79 L415.84,468.60 L416.54,468.60 L416.54,474.54 L417.24,474.54 L417.24,492.74 L417.93,492.74 L417.93,478.60 L418.63,478.60 L418.63,478.51 L419.32,478.51 L419.32,479.71 L420.02,479.71 L420.02,482.93 L420.71,482.93 L420.71,482.31 L421.41,482.31 L421.41,473.13 L422.11,473.13 L422.11,465.91 L422.80,465.91 L422.80,464.44 L423.50,464.44 L423.50,471.63 L424.19,471.63 L424.19,467.98 L424.89,467.98 L424.89,459.81 L425.59,459.81 L425.59,461.19 L426.28,461.19 L426.28,455.95 L426.98,455.95 L426.98,450.84 L427.67,450.84 L427.67,445.02 L428.37,445.02 L428.37,438.88 L429.06,438.88 L429.06,439.08 L429.76,439.08 L429.76,434.79 L430.46,434.79 L430.46,440.09 L431.15,440.09 L431.15,437.03 L431.85,437.03 L431.85,432.32 L432.54,432.32 L432.54,436.61 L433.24,436.61 L433.24,434.52 L433.94,434.52 L433.94,428.65 L434.63,428.65 L434.63,433.78 L435.33,433.78 L435.33,431.07 L436.02,431.07 L436.02,431.59 L436.72,431.59 L436.72,426.89 L437.41,426.89 L437.41,428.51 L438.11,428.51 L438.11,427.85 L438.81,427.85 L438.81,427.10 L439.50,427.10 L439.50,426.62 L440.20,426.62 L440.20,426.88 L440.89,426.88 L440.89,424.58 L441.59,424.58 L441.59,424.43 L442.29,424.43 L442.29,423.99 L442.98,423.99 L442.98,424.16 L443.68,424.16 L443.68,424.03 L444.37,424.03 L444.37,424.52 L445.07,424.52 L445.07,424.39 L445.76,424.39 L445.76,424.18 L446.46,424.18 L446.46,423.83 L447.16,423.83 L447.16,424.07 L447.85,424.07 L447.85,425.01 L448.55,425.01 L448.55,425.03 L449.24,425.03 L449.24,424.72 L449.94,424.72 L449.94,424.50 L450.64,424.50 L450.64,425.70 L451.33,425.70 L451.33,424.22 L452.03,424.22 L452.03,424.48 L452.72,424.48 L452.72,424.24 L453.42,424.24 L453.42,423.09 L454.12,423.09 L454.12,423.10 L454.81,423.10 L454.81,422.14 L455.51,422.14 L455.51,422.66 L456.20,422.66 L456.20,422.15 L456.90,422.15 L456.90,421.43 L457.59,421.43 L457.59,421.90 L458.29,421.90 L458.29,421.32 L458.99,421.32 L458.99,421.67 L459.68,421.67 L459.68,421.12 L460.38,421.12 L460.38,421.13 L461.07,421.13 L461.07,421.12 L461.77,421.12 L461.77,420.90 L462.47,420.90 L462.47,420.91 L463.16,420.91 L463.16,420.68 L463.86,420.68 L463.86,420.76 L464.55,420.76 L464.55,420.60 L465.25,420.60 L465.25,420.57 L465.94,420.57 L465.94,420.13 L466.64,420.13 L466.64,420.56 L467.34,420.56 L467.34,420.37 L468.03,420.37 L468.03,420.12 L468.73,420.12 L468.73,420.26 L469.42,420.26 L469.42,420.26 L470.12,420.26 L470.12,420.30 L470.82,420.30 L470.82,420.09 L471.51,420.09 L471.51,420.31 L472.21,420.31 L472.21,420.14 L472.90,420.14 L472.90,420.35 L473.60,420.35 L473.60,420.12 L474.29,420.12 L474.29,420.17 L474.99,420.17 L474.99,420.07 L475.69,420.07 L475.69,420.00 L476.38,420.00 L476.38,420.16 L477.08,420.16 L477.08,420.13 L477.77,420.13 L477.77,420.16 L478.47,420.16 L478.47,420.09 L479.17,420.09 L479.17,419.98 L479.86,419.98 L479.86,419.90 L480.56,419.90 L480.56,419.97 L481.25,419.97 L481.25,419.97 L481.95,419.97 L481.95,419.96 L482.65,419.96 L482.65,420.06 L483.34,420.06 L483.34,420.04 L484.04,420.04 L484.04,420.00 L484.73,420.00 L484.73,420.03 L485.43,420.03 L485.43,420.01 L486.12,420.01 L486.12,420.03 L486.82,420.03 L486.82,420.07 L487.52,420.07 L487.52,420.09 L488.21,420.09 L488.21,419.97 L488.91,419.97 L488.91,419.91 L489.60,419.91 L489.60,420.12 L490.30,420.12 L490.30,420.03 L491.00,420.03 L491.00,420.10 L491.69,420.10 L491.69,419.90 L492.39,419.90 L492.39,419.99 L493.08,419.99 L493.08,420.02 L493.78,420.02 L493.78,419.91 L494.47,419.91 L494.47,419.98 L495.17,419.98 L495.17,420.07 L495.87,420.07 L495.87,420.10 L496.56,420.10 L496.56,420.13 L497.26,420.13 L497.26,419.96 L497.95,419.96 L497.95,419.92 L498.65,419.92 L498.65,420.06 L499.35,420.06 L499.35,420.09 L500.04,420.09 L500.04,420.03 L500.74,420.03 L500.74,419.92 L501.43,419.92 L501.43,420.07 L502.13,420.07 L502.13,420.08 L502.82,420.08 L502.82,420.06 L503.52,420.06 L503.52,419.98 L504.22,419.98 L504.22,420.04 L504.91,420.04 L504.91,420.07 L505.61,420.07 L505.61,419.98 L506.30,419.98 L506.30,419.89 L507.00,419.89 L507.00,419.4 Z" fill="#f7991f"/>
<line x1="414.1" y1="419.4" x2="414.1" y2="516.5" stroke="#f7991f" stroke-width="1.1" opacity="0.9"/>
<line x1="422.4" y1="419.4" x2="422.4" y2="511.4" stroke="#f7991f" stroke-width="1.0" opacity="0.8"/>
<line x1="405.4" y1="419.4" x2="405.4" y2="471" stroke="#f7991f" stroke-width="1.6" opacity="0.9"/>
<line x1="409.5" y1="419.4" x2="409.5" y2="470" stroke="#f7991f" stroke-width="1.0" opacity="0.7"/>
<line x1="66.5" y1="419.4" x2="66.5" y2="424.6" stroke="#f7991f" stroke-width="1.2" opacity="0.85"/>
<line x1="70.5" y1="419.4" x2="70.5" y2="422.5" stroke="#f7991f" stroke-width="1.0" opacity="0.6"/>
<line x1="74" y1="419.4" x2="74" y2="423" stroke="#f7991f" stroke-width="1.0" opacity="0.6"/>
<line x1="81.5" y1="419.4" x2="81.5" y2="429.75" stroke="#f7991f" stroke-width="1.3" opacity="0.85"/>
<line x1="84.5" y1="419.4" x2="84.5" y2="427" stroke="#f7991f" stroke-width="1.0" opacity="0.7"/>
<line x1="88.4" y1="419.4" x2="88.4" y2="429" stroke="#f7991f" stroke-width="1.2" opacity="0.8"/>
<line x1="91.3" y1="419.4" x2="91.3" y2="427.7" stroke="#f7991f" stroke-width="1.2" opacity="0.8"/>
<line x1="93.5" y1="419.4" x2="93.5" y2="426" stroke="#f7991f" stroke-width="1.0" opacity="0.7"/>
<line x1="97" y1="419.4" x2="97" y2="425" stroke="#f7991f" stroke-width="1.0" opacity="0.6"/>
<line x1="103" y1="419.4" x2="103" y2="424" stroke="#f7991f" stroke-width="0.9" opacity="0.5"/>
<line x1="112" y1="419.4" x2="112" y2="423.75" stroke="#f7991f" stroke-width="0.9" opacity="0.6"/>
<line x1="131" y1="419.4" x2="131" y2="423" stroke="#f7991f" stroke-width="0.9" opacity="0.6"/>
<line x1="161" y1="419.4" x2="161" y2="426" stroke="#f7991f" stroke-width="0.9" opacity="0.6"/>
<line x1="175" y1="419.4" x2="175" y2="426.5" stroke="#f7991f" stroke-width="0.9" opacity="0.6"/>
<line x1="195" y1="419.4" x2="195" y2="431.3" stroke="#f7991f" stroke-width="1.0" opacity="0.7"/>
<line x1="199" y1="419.4" x2="199" y2="430" stroke="#f7991f" stroke-width="1.0" opacity="0.7"/>
<line x1="209" y1="419.4" x2="209" y2="430" stroke="#f7991f" stroke-width="1.0" opacity="0.7"/>
<line x1="306.5" y1="419.4" x2="306.5" y2="440" stroke="#f7991f" stroke-width="1.0" opacity="0.7"/>
<line x1="281.5" y1="419.4" x2="281.5" y2="436" stroke="#f7991f" stroke-width="0.9" opacity="0.6"/>
<line x1="290" y1="419.4" x2="290" y2="437" stroke="#f7991f" stroke-width="0.9" opacity="0.5"/>
<line x1="420.8" y1="432.8" x2="420.8" y2="470" stroke="#223e7e" stroke-width="1.0" opacity="0.85"/>
<line x1="428.6" y1="426" x2="428.6" y2="445" stroke="#223e7e" stroke-width="1.0" opacity="0.8"/>
<line x1="401.7" y1="432" x2="401.7" y2="441" stroke="#223e7e" stroke-width="1.0" opacity="0.7"/>
<line x1="424" y1="440" x2="424" y2="460" stroke="#223e7e" stroke-width="1.0" opacity="0.7"/>
<line x1="306.3" y1="422" x2="306.3" y2="437" stroke="#223e7e" stroke-width="1.6" opacity="0.9"/>
<line x1="411.5" y1="440" x2="411.5" y2="454" stroke="#223e7e" stroke-width="0.9" opacity="0.6"/>
<line x1="54.6" y1="394.6" x2="504.2" y2="394.6" stroke="#f4e53a" stroke-width="1.9" stroke-dasharray="6.8 4.26"/>
<path d="M54.00,419.30 L77.00,419.30 L86.00,416.90 L100.00,417.30 L120.00,417.20 L130.00,417.30 L137.00,416.70 L143.00,416.00 L147.00,414.70 L152.00,413.70 L157.00,412.70 L162.00,411.30 L167.00,410.30 L172.00,409.30 L177.00,408.70 L180.00,407.30 L183.00,404.70 L186.00,401.30 L189.00,400.00 L193.00,398.70 L197.00,398.30 L200.00,397.75 L205.00,398.40 L210.00,397.50 L215.00,398.00 L220.00,400.60 L225.00,403.00 L230.00,405.60 L234.00,404.40 L237.50,403.00 L241.00,399.40 L244.00,397.00 L250.00,397.00 L254.00,397.75 L257.00,396.00 L261.00,397.00 L264.00,391.00 L267.50,386.50 L270.50,382.30 L272.50,383.75 L275.00,383.75 L277.50,377.50 L280.00,369.40 L282.50,365.00 L285.00,363.00 L287.50,359.75 L289.00,360.60 L291.00,366.00 L293.00,367.00 L295.00,361.00 L296.50,354.40 L298.00,355.00 L300.00,357.00 L301.50,359.40 L303.00,358.00 L304.50,365.00 L306.00,375.00 L307.50,383.75 L309.00,385.00 L311.00,385.60 L312.50,388.00 L315.00,391.00 L317.50,390.00 L320.00,391.00 L322.50,392.00 L325.00,394.40 L327.00,394.40 L329.00,391.00 L331.00,392.30 L332.50,394.40 L335.00,397.00 L337.50,399.40 L340.00,403.00 L342.50,404.00 L345.00,402.00 L347.50,402.00 L350.00,402.75 L352.50,403.75 L355.00,404.40 L357.50,405.00 L360.00,404.40 L362.50,405.60 L365.00,407.00 L367.50,409.40 L370.00,411.50 L372.00,410.00 L374.00,406.25 L376.00,405.00 L379.00,405.60 L381.00,405.00 L383.00,403.75 L385.00,400.00 L386.25,394.00 L387.50,387.50 L388.75,381.00 L390.60,372.50 L392.50,360.00 L393.75,344.00 L395.60,326.00 L397.50,307.50 L400.00,270.00 L401.90,261.00 L404.40,250.00 L405.60,233.00 L407.60,205.00 L408.50,196.00 L409.20,185.00 L409.90,178.50 L410.70,176.30 L411.60,177.60 L412.40,183.00 L413.10,196.00 L413.60,205.00 L414.40,233.00 L415.60,261.00 L416.60,275.00 L417.50,289.00 L419.40,307.50 L421.25,326.00 L422.50,344.00 L424.40,360.00 L426.90,372.50 L428.75,381.00 L430.60,388.00 L432.50,394.00 L435.60,401.00 L438.00,403.30 L440.00,405.80 L442.00,407.40 L445.00,409.30 L447.00,410.50 L450.00,412.00 L453.00,413.60 L456.00,415.00 L460.00,416.20 L465.00,416.80 L470.00,417.10 L480.00,417.40 L490.00,417.60 L507.30,417.70" fill="none" stroke="#fff" stroke-width="1.6" stroke-linejoin="round" stroke-linecap="round"/>
<path d="M54.00,419.30 L66.00,420.30 L77.00,420.75 L80.00,422.25 L83.00,423.75 L85.25,426.00 L87.50,423.75 L90.50,423.00 L93.50,423.75 L96.50,422.25 L101.00,421.50 L110.00,421.20 L125.00,420.75 L130.00,421.30 L143.00,421.30 L157.00,421.00 L160.00,422.70 L163.00,424.00 L170.00,422.70 L175.00,424.70 L178.50,426.00 L183.00,425.30 L190.00,425.30 L196.00,427.30 L200.00,428.30 L203.00,425.80 L207.00,423.00 L210.00,424.70 L213.00,426.70 L217.00,426.70 L223.00,425.80 L230.00,425.00 L235.00,423.70 L240.00,423.00 L243.00,424.70 L247.00,425.80 L250.00,426.70 L253.00,428.00 L257.00,427.00 L260.00,426.30 L265.00,426.30 L270.00,425.80 L275.00,426.70 L278.00,429.20 L281.00,432.50 L285.00,433.00 L290.00,434.20 L295.00,435.30 L300.00,436.30 L303.00,437.00 L305.50,437.80 L308.00,435.00 L312.00,436.20 L317.00,435.80 L320.00,435.00 L323.00,430.80 L327.00,427.50 L330.00,425.80 L333.00,424.70 L337.00,423.00 L340.00,421.70 L345.00,421.70 L350.00,423.70 L355.00,424.70 L360.00,425.30 L365.00,426.30 L370.00,425.80 L375.00,424.70 L380.00,425.20 L385.00,426.00 L390.00,429.70 L392.50,437.00 L394.50,442.00 L396.50,441.00 L399.00,442.00 L401.00,441.00 L403.00,444.00 L405.00,451.40 L407.00,460.70 L408.50,462.75 L410.40,454.50 L412.00,454.50 L413.00,461.70 L414.50,472.00 L416.00,480.00 L417.50,486.50 L419.00,483.40 L420.50,474.00 L422.00,465.90 L423.50,462.75 L425.00,458.60 L426.00,460.70 L427.60,451.40 L429.60,441.00 L431.70,435.90 L434.00,432.75 L437.00,428.60 L440.00,426.50 L444.00,424.30 L447.00,424.00 L450.00,424.50 L452.00,424.60 L455.00,422.70 L457.50,421.90 L460.00,421.30 L465.00,420.60 L470.00,420.20 L480.00,420.00 L490.00,420.00 L507.30,420.00" fill="none" stroke="#fff" stroke-width="1.6" stroke-linejoin="round" stroke-linecap="round"/>
<line x1="470" y1="418.85" x2="507.3" y2="418.85" stroke="#fff" stroke-width="1.6" stroke-linecap="round"/>
<rect x="119.5" y="446" width="66.5" height="20" fill="#223e7e"/>
<text class="an" x="141.30" y="367.70" textLength="36.70" lengthAdjust="spacingAndGlyphs" fill="#f4e53a">Rata-rata</text>
<text class="an" x="153.30" y="376.30" textLength="24.70" lengthAdjust="spacingAndGlyphs" fill="#f4e53a">harian</text>
<path d="M199.8,387.2 C198.5,379 194,372.5 185,370.6" fill="none" stroke="#f4e53a" stroke-width="0.9"/>
<path d="M182.6,370.2 L186.8,368.6 L186.3,372.6 Z" fill="#f4e53a"/>
<text class="an" x="140.00" y="454.30" textLength="36.20" lengthAdjust="spacingAndGlyphs" fill="#e9effc">Rata-rata</text>
<text class="an" x="119.00" y="462.90" textLength="57.20" lengthAdjust="spacingAndGlyphs" fill="#e9effc">bergerak 7 hari</text>
<path d="M192.2,428.5 C193.6,437 190.5,445 182.6,448.4" fill="none" stroke="#e9effc" stroke-width="0.9"/>
<path d="M180.2,449.3 L183.4,446.3 L184.6,450 Z" fill="#e9effc"/>
<line x1="17.5" y1="542" x2="584.4" y2="542" stroke="#dbe5fb" stroke-width="1.6"/>
<line x1="54" y1="542" x2="54" y2="545.6" stroke="#dbe5fb" stroke-width="1.8"/>
<line x1="507" y1="542" x2="507" y2="545.6" stroke="#dbe5fb" stroke-width="1.8"/>
<text class="xl" x="28.20" y="558.70" textLength="46.00" lengthAdjust="spacingAndGlyphs">2 MAR ’20</text>
<text class="xl" x="487.30" y="558.70" textLength="43.40" lengthAdjust="spacingAndGlyphs">13 DES ’21</text>
<path d="M514,379.3 H574 V408.8 H523.4 L513.4,415 L515.4,408.8 H514 Z" fill="#1ca74a"/>
<text class="bx" x="517.60" y="388.50" textLength="54.30" lengthAdjust="spacingAndGlyphs" font-size="8.2">KASUS BARU</text>
<text class="bx" x="536.80" y="403.90" textLength="16.20" lengthAdjust="spacingAndGlyphs" font-size="15">16</text>
<path d="M520.2,419.7 H580.4 V449 H520.2 V429.8 L513.2,422 L520.2,423 Z" fill="#f26b25"/>
<text class="bx" x="527.00" y="428.60" textLength="46.20" lengthAdjust="spacingAndGlyphs" font-size="8.2">KEMATIAN</text>
<text class="bx" x="544.40" y="443.90" textLength="11.20" lengthAdjust="spacingAndGlyphs" font-size="15">0</text>
<text class="ft" x="18.00" y="584.90" textLength="500.00" lengthAdjust="spacingAndGlyphs" font-size="11.4" fill="#b4c2e4">Catatan: Data kasus baru dan kematian ditampilkan dalam skala sumbu yang berbeda untuk memperjelas tren</text>
</svg>
</body>
</html>
